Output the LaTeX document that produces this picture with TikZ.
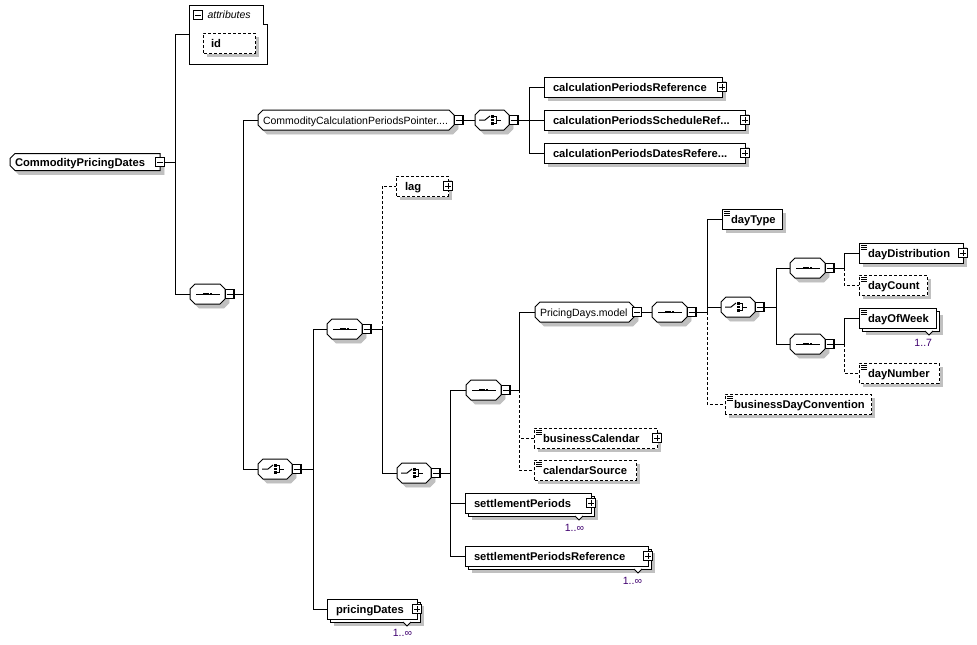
\documentclass[tikz,border=0pt]{standalone}
\usepackage{fontspec}
\setmainfont{Liberation Sans}
\definecolor{multc}{HTML}{400070}
\definecolor{shdc}{RGB}{192,192,192}
\newcommand\bx[3]{\makebox[#1pt][l]{\hspace*{#2pt}#3}}
\makeatletter
\newdimen\xbxa \newdimen\xbya \newdimen\xbxb \newdimen\xbyb
\newdimen\xblc \newdimen\xbrc \newdimen\xbcp \newdimen\xbcn
\pgfkeys{/pgf/xbox lc/.initial=0pt, /pgf/xbox rc/.initial=0pt, /pgf/xbox copy/.initial=0pt}
\def\xboxpath#1#2{%
  \pgfpathmoveto{\pgfqpoint{\dimexpr\xbxa+#1\relax}{\dimexpr\xbya+\xblc+#2\relax}}%
  \pgfpathlineto{\pgfqpoint{\dimexpr\xbxa+#1\relax}{\dimexpr\xbyb-\xblc+#2\relax}}%
  \pgfpathlineto{\pgfqpoint{\dimexpr\xbxa+\xblc+#1\relax}{\dimexpr\xbyb+#2\relax}}%
  \pgfpathlineto{\pgfqpoint{\dimexpr\xbxb-\xbrc+#1\relax}{\dimexpr\xbyb+#2\relax}}%
  \pgfpathlineto{\pgfqpoint{\dimexpr\xbxb+#1\relax}{\dimexpr\xbyb-\xbrc+#2\relax}}%
  \pgfpathlineto{\pgfqpoint{\dimexpr\xbxb+#1\relax}{\dimexpr\xbya+\xbrc+#2\relax}}%
  \pgfpathlineto{\pgfqpoint{\dimexpr\xbxb-\xbrc+#1\relax}{\dimexpr\xbya+#2\relax}}%
  \pgfpathlineto{\pgfqpoint{\dimexpr\xbxa+\xblc+#1\relax}{\dimexpr\xbya+#2\relax}}%
  \pgfpathclose}
\def\xboxsetup{%
  \southwest \xbxa=\pgf@x \xbya=\pgf@y
  \northeast \xbxb=\pgf@x \xbyb=\pgf@y
  \pgfmathsetlength\xblc{\pgfkeysvalueof{/pgf/xbox lc}}%
  \pgfmathsetlength\xbrc{\pgfkeysvalueof{/pgf/xbox rc}}%
  \pgfmathsetlength\xbcp{\pgfkeysvalueof{/pgf/xbox copy}}%
  \xbcn=-\xbcp}
\pgfdeclareshape{xbox}{
  \inheritsavedanchors[from=rectangle]
  \inheritanchorborder[from=rectangle]
  \inheritanchor[from=rectangle]{center}
  \inheritanchor[from=rectangle]{north}
  \inheritanchor[from=rectangle]{south}
  \inheritanchor[from=rectangle]{east}
  \inheritanchor[from=rectangle]{west}
  \inheritanchor[from=rectangle]{north east}
  \inheritanchor[from=rectangle]{north west}
  \inheritanchor[from=rectangle]{south east}
  \inheritanchor[from=rectangle]{south west}
  \inheritanchor[from=rectangle]{mid}
  \inheritanchor[from=rectangle]{base}
  \behindbackgroundpath{%
    \xboxsetup
    \ifdim\xbcp>0pt
      \pgfscope
        \pgfsetfillcolor{white}\pgfsetstrokecolor{black}\pgfsetlinewidth{1pt}\pgfsetdash{}{0pt}%
        \xboxpath{\xbcp}{\xbcn}%
        \pgfusepath{fill,stroke}%
      \endpgfscope
    \fi}
  \backgroundpath{\xboxsetup\xboxpath{\z@}{\z@}}
}
\makeatother
% octagon shadow, drawn before the nodes: x, ycenter, width, height, left chamfer, right chamfer, offset
\newcommand\shadow[7]{\path[fill=shdc, draw=shdc, line width=0.6pt]
  ({#1+#7},{#2-#4/2+#7+#5}) -- ({#1+#7+#5},{#2-#4/2+#7}) -- ({#1+#3+#7-#6},{#2-#4/2+#7}) -- ({#1+#3+#7},{#2-#4/2+#7+#6})
  -- ({#1+#3+#7},{#2+#4/2+#7-#6}) -- ({#1+#3+#7-#6},{#2+#4/2+#7}) -- ({#1+#7+#5},{#2+#4/2+#7}) -- ({#1+#7},{#2+#4/2+#7-#5}) -- cycle;}
% L-shaped visible part of a box shadow, stroked right after the box: node, offset, mid, width
\newcommand\lshadow[4]{%
  \draw[shdc, line width=#4pt, line cap=butt] ([shift={(#3pt,-#2pt)}]#1.north east) -- ([shift={(#3pt,-#2pt)}]#1.south east);
  \draw[shdc, line width=#4pt, line cap=butt] ([shift={(#2pt,-#3pt)}]#1.south west) -- ([shift={(#2pt,-#3pt)}]#1.south east);}
\tikzset{
  every node/.style={inner sep=0pt, outer sep=0pt},
  txtb/.style={font=\fontsize{11.2}{13}\selectfont\bfseries, text height=10pt, text depth=2pt},
  txtr/.style={font=\fontsize{10.5}{13}\selectfont, text height=9.5pt, text depth=1.5pt},
  boxbase/.style={shape=xbox, draw, fill=white, line width=1pt, minimum height=20pt, anchor=west},
  elembox/.style={boxbase, txtb},
  optbox/.style={elembox, dash pattern=on 3pt off 2pt},
  multibox/.style={elembox, xbox copy=3pt},
  simpleicon/.style={path picture={\foreach \k in {2.5,4.5,6.5}{\draw[black, solid, line width=0.9pt] ([shift={(2pt,-\k pt)}]path picture bounding box.north west) -- ++(6pt,0pt);}}},
  seqsym/.style={boxbase, xbox lc=5pt, xbox rc=5pt, minimum width=35pt,
    path picture={
      \draw[black, line width=1pt] ([xshift=6pt]path picture bounding box.west) -- ([xshift=-5pt]path picture bounding box.east);
      \foreach \d in {-3.2,0,3.2}{\fill[black] ([xshift=\d pt]path picture bounding box.center) +(-1.2pt,-1.2pt) rectangle +(1.2pt,1.2pt);}}},
  chosym/.style={boxbase, xbox lc=5pt, xbox rc=5pt, minimum width=34pt,
    path picture={
      \coordinate (cc) at (path picture bounding box.center);
      \draw[black, line width=1pt] ([xshift=-13pt]cc) -- ([xshift=-7pt]cc) -- ([shift={(-2pt,4pt)}]cc);
      \foreach \d in {-3.5,0,3.5}{\fill[black] ([shift={(0.7pt,\d pt)}]cc) +(-1.3pt,-1.3pt) rectangle +(1.3pt,1.3pt);}
      \draw[black, line width=1pt] ([shift={(2pt,3.5pt)}]cc) -- ([shift={(4pt,3.5pt)}]cc) -- ([shift={(4pt,-3.5pt)}]cc) -- ([shift={(2pt,-3.5pt)}]cc);
      \draw[black, line width=1pt] ([xshift=4pt]cc) -- ([xshift=9pt]cc);}},
  grp/.style={boxbase, xbox lc=5pt, xbox rc=5pt, txtr},
  cplx/.style={boxbase, xbox lc=5pt, txtb},
  minusb/.style={shape=rectangle, draw, fill=white, line width=1pt, minimum size=9pt,
    path picture={\draw[black, line width=1pt] ([xshift=1.5pt]path picture bounding box.west) -- ([xshift=-1.5pt]path picture bounding box.east);
      \draw[black, line width=1.6pt] (path picture bounding box.south west) -- (path picture bounding box.south east) -- (path picture bounding box.north east);}},
  plusb/.style={minusb,
    path picture={\draw[black, line width=1pt] ([xshift=1.5pt]path picture bounding box.west) -- ([xshift=-1.5pt]path picture bounding box.east);
      \draw[black, line width=1pt] ([yshift=1.5pt]path picture bounding box.south) -- ([yshift=-1.5pt]path picture bounding box.north);
      \draw[black, line width=1.6pt] (path picture bounding box.south west) -- (path picture bounding box.south east) -- (path picture bounding box.north east);}},
  conn/.style={line width=1pt},
  optconn/.style={conn, dash pattern=on 3pt off 2pt},
  notch/.style={draw, fill=white, line width=1pt, line join=miter},
  mult/.style={font=\fontsize{10.5}{12}\selectfont, text=multc, anchor=east, text height=7.5pt, text depth=0pt},
}
\begin{document}
\begin{tikzpicture}[x=1pt,y=-1pt]
\fill[white] (0,0) rectangle (977,645);
\useasboundingbox (0,0) rectangle (977,645);

% octagon shadows
\shadow{10}{162}{150}{17}{5}{0}{4}
\shadow{258}{120}{196}{20}{5}{5}{4}
\shadow{535}{312}{99}{20}{5}{5}{4}
\shadow{190}{294}{35}{20}{5}{5}{4}
\shadow{327}{329}{35}{20}{5}{5}{4}
\shadow{466}{390}{35}{20}{5}{5}{4}
\shadow{652}{312}{35}{20}{5}{5}{4}
\shadow{790}{268}{35}{20}{5}{5}{4}
\shadow{790}{344}{35}{20}{5}{5}{4}
\shadow{475}{120}{34}{20}{5}{5}{4}
\shadow{258}{469}{34}{20}{5}{5}{4}
\shadow{397}{473}{34}{20}{5}{5}{4}
\shadow{721}{307}{34}{20}{5}{5}{4}

% root
\node[cplx, minimum height=17pt, text height=9pt, text depth=1pt] (root) at (10,162) {\bx{150}{5}{CommodityPricingDates}};
\node[minusb] (rootpm) at (root.east) {};
\coordinate (busA) at (175,162);

% attributes
\node[minimum width=78pt, minimum height=59pt, anchor=north west] (attr) at (189,5) {};
\draw[line width=1pt] (attr.north west) -- ++(74,0) -- ++(0,19) -- ++(4,0) |- (attr.south west) -- cycle;
\node[minusb] (attrpm) at (198,15) {};
\node[font=\fontsize{10.5}{13}\selectfont\itshape, text height=9.5pt, text depth=1.5pt, anchor=west] (attrlbl) at (207.5,15) {attributes};
\node[optbox] (idb) at (203,43) {\bx{52}{8}{id}};
\lshadow{idb}{4}{2.25}{3.5}

% main sequence
\node[seqsym] (seq1) at (190,294) {};
\node[minusb] (seq1pm) at ([xshift=4.5pt]seq1.east) {};
\coordinate (busB) at (243,294);

\node[grp] (ccpp) at (258,120) {\bx{196}{5}{CommodityCalculationPeriodsPointer....}};
\node[minusb] (ccpppm) at ([xshift=4.5pt]ccpp.east) {};
\node[chosym] (choA) at (475,120) {};
\node[minusb] (choApm) at ([xshift=4.5pt]choA.east) {};
\coordinate (busC) at (529,120);
\node[elembox] (cpr) at (544,87) {\bx{178}{9}{calculationPeriodsReference}};
\lshadow{cpr}{4}{2.25}{3.5}
\node[plusb] (cprpm) at (cpr.east) {};
\node[elembox] (cpsr) at (544,120) {\bx{201}{9}{calculationPeriodsScheduleRef...}};
\lshadow{cpsr}{4}{2.25}{3.5}
\node[plusb] (cpsrpm) at (cpsr.east) {};
\node[elembox] (cpdr) at (544,153) {\bx{201}{9}{calculationPeriodsDatesRefere...}};
\lshadow{cpdr}{4}{2.25}{3.5}
\node[plusb] (cpdrpm) at (cpdr.east) {};

\node[chosym] (choB) at (258,469) {};
\node[minusb] (choBpm) at ([xshift=4.5pt]choB.east) {};
\coordinate (busE) at (313,469);

\node[seqsym] (seq2) at (327,329) {};
\node[minusb] (seq2pm) at ([xshift=4.5pt]seq2.east) {};
\coordinate (busD) at (382,329);
\node[optbox] (lag) at (396,186) {\bx{52}{9}{lag}};
\lshadow{lag}{4}{2.25}{3.5}
\node[plusb] (lagpm) at (lag.east) {};

\node[multibox] (pd) at (327,609) {\bx{90}{9}{pricingDates}};
\lshadow{pd}{7}{5.25}{3.5}
\node[plusb] (pdpm) at (pd.east) {};
\draw[notch] ([shift={(-14pt,-3pt)}]pd.south east) -- ++(4,4) -- ++(4,-4);
\node[mult] (pdmult) at (412,633) {1..∞};

\node[chosym] (choC) at (397,473) {};
\node[minusb] (choCpm) at ([xshift=4.5pt]choC.east) {};
\coordinate (busF) at (450,473);
\node[seqsym] (seq3) at (466,390) {};
\node[minusb] (seq3pm) at ([xshift=4.5pt]seq3.east) {};
\coordinate (busG) at (519,390);
\node[grp] (pdm) at (535,312) {\bx{99}{5}{PricingDays.model}};
\node[minusb] (pdmpm) at ([xshift=3pt]pdm.east) {};
\node[seqsym] (seq4) at (652,312) {};
\node[minusb] (seq4pm) at ([xshift=4.5pt]seq4.east) {};
\coordinate (busH) at (707,312);
\node[elembox, simpleicon] (dayType) at (722,219) {\bx{60}{9}{dayType}};
\lshadow{dayType}{4}{2.25}{3.5}
\node[chosym] (choD) at (721,307) {};
\node[minusb] (choDpm) at ([xshift=4.5pt]choD.east) {};
\coordinate (busI) at (776,307);
\node[seqsym] (seq5) at (790,268) {};
\node[minusb] (seq5pm) at ([xshift=4.5pt]seq5.east) {};
\coordinate (busJ) at (844,268);
\node[elembox, simpleicon] (dayDist) at (859,253) {\bx{104}{9}{dayDistribution}};
\lshadow{dayDist}{4}{2.25}{3.5}
\node[plusb] (dayDistpm) at (dayDist.east) {};
\node[optbox, simpleicon] (dayCount) at (859,285) {\bx{68}{9}{dayCount}};
\lshadow{dayCount}{4}{2.25}{3.5}
\node[seqsym] (seq6) at (790,344) {};
\node[minusb] (seq6pm) at ([xshift=4.5pt]seq6.east) {};
\coordinate (busK) at (844,344);
\node[multibox, simpleicon] (dow) at (859,318) {\bx{77}{9}{dayOfWeek}};
\lshadow{dow}{7}{5.25}{3.5}
\draw[notch] ([shift={(-11pt,-3pt)}]dow.south east) -- ++(4,4) -- ++(4,-4);
\node[mult] (dowmult) at (932,343) {1..7};
\node[optbox, simpleicon] (dayNum) at (859,373) {\bx{80}{9}{dayNumber}};
\lshadow{dayNum}{4}{2.25}{3.5}
\node[optbox, simpleicon] (bdc) at (725,404) {\bx{146}{9}{businessDayConvention}};
\lshadow{bdc}{4}{2.25}{3.5}
\node[optbox, simpleicon] (bcal) at (534,438) {\bx{123}{9}{businessCalendar}};
\lshadow{bcal}{4}{2.25}{3.5}
\node[plusb] (bcalpm) at (bcal.east) {};
\node[optbox, simpleicon] (csrc) at (534,470) {\bx{102}{9}{calendarSource}};
\lshadow{csrc}{4}{2.25}{3.5}
\node[multibox] (sp) at (465,503) {\bx{126}{9}{settlementPeriods}};
\lshadow{sp}{7}{5.25}{3.5}
\node[plusb] (sppm) at (sp.east) {};
\draw[notch] ([shift={(-16pt,-3pt)}]sp.south east) -- ++(4,4) -- ++(4,-4);
\node[mult] (spmult) at (584,528) {1..∞};
\node[multibox] (spr) at (465,556) {\bx{183}{9}{settlementPeriodsReference}};
\lshadow{spr}{7}{5.25}{3.5}
\node[plusb] (sprpm) at (spr.east) {};
\draw[notch] ([shift={(-14pt,-3pt)}]spr.south east) -- ++(4,4) -- ++(4,-4);
\node[mult] (sprmult) at (642,581) {1..∞};

% connectors
\draw[conn] (rootpm.east) -- (busA) |- (attr.west);
\draw[conn] (busA) |- (seq1.west);
\draw[conn] (seq1pm.east) -- (busB) |- (ccpp.west);
\draw[conn] (busB) |- (choB.west);
\draw[conn] (ccpppm.east) -- (choA.west);
\draw[conn] (choApm.east) -- (busC) |- (cpr.west);
\draw[conn] (busC) -- (cpsr.west);
\draw[conn] (busC) |- (cpdr.west);
\draw[conn] (choBpm.east) -- (busE) |- (seq2.west);
\draw[conn] (busE) |- (pd.west);
\draw[conn] (seq2pm.east) -- (busD);
\draw[optconn] (busD) |- (lag.west);
\draw[conn] (busD) |- (choC.west);
\draw[conn] (choCpm.east) -- (busF) |- (seq3.west);
\draw[conn] (busF) |- (sp.west);
\draw[conn] (busF) |- (spr.west);
\draw[conn] (seq3pm.east) -- (busG) |- (pdm.west);
\draw[optconn] (busG) |- (bcal.west);
\draw[optconn] (busG) |- (csrc.west);
\draw[conn] (pdmpm.east) -- (seq4.west);
\draw[conn] (seq4pm.east) -- (busH) |- (dayType.west);
\draw[conn] (busH) |- (choD.west);
\draw[optconn] (busH) |- (bdc.west);
\draw[conn] (choDpm.east) -- (busI) |- (seq5.west);
\draw[conn] (busI) |- (seq6.west);
\draw[conn] (seq5pm.east) -- (busJ) |- (dayDist.west);
\draw[optconn] (busJ) |- (dayCount.west);
\draw[conn] (seq6pm.east) -- (busK) |- (dow.west);
\draw[optconn] (busK) |- (dayNum.west);
\end{tikzpicture}
\end{document}
